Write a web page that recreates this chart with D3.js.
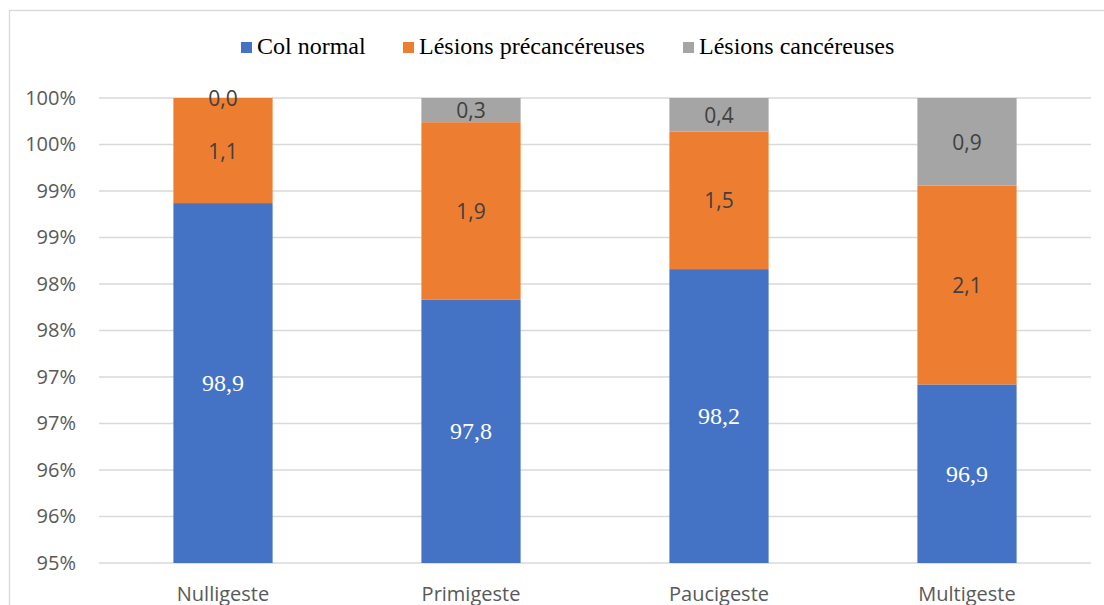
<!DOCTYPE html>
<html>
<head>
<meta charset="utf-8">
<script src="https://cdn.jsdelivr.net/npm/d3@7/dist/d3.min.js"></script>
<style>
  html, body { margin: 0; padding: 0; background: #fff; }
  svg { display: block; }
  .serif { font-family: "Liberation Serif", "Times New Roman", serif; }
  .sans { font-family: "Open Sans", sans-serif; }
</style>
</head>
<body>
<svg id="chart" width="1104" height="605"></svg>
<script>
// Répartition des lésions du col selon la gestité (%)
const categories = ["Nulligeste", "Primigeste", "Paucigeste", "Multigeste"];
const seriesNames = ["Col normal", "Lésions précancéreuses", "Lésions cancéreuses"];
const colNormal = [98.87, 97.83, 98.16, 96.92];
const precancereuses = [1.13, 1.91, 1.48, 2.14];
const cancereuses = [0.00, 0.26, 0.36, 0.94];
const tickValues = [95, 95.5, 96, 96.5, 97, 97.5, 98, 98.5, 99, 99.5, 100];
const tickLabels = ["95%", "96%", "96%", "97%", "97%", "98%", "98%", "99%", "99%", "100%", "100%"];

const colors = ["#4472C4", "#ED7D31", "#A5A5A5"];
const labelColors = ["#FFFFFF", "#404040", "#404040"];
const labelClass = ["serif", "sans", "sans"];
const labelSize = ["24px", "21px", "21px"];

const svg = d3.select("#chart");
const W = 1104, H = 605;

// chart area border
svg.append("rect")
  .attr("x", 9.5).attr("y", 10.5)
  .attr("width", W + 10).attr("height", H + 10)
  .attr("fill", "#fff").attr("stroke", "#D9D9D9").attr("stroke-width", 1.3);

const plot = { left: 99, right: 1091, top: 98, bottom: 563 };

const x = d3.scaleBand()
  .domain(categories)
  .range([plot.left, plot.right])
  .paddingInner(0.6)
  .paddingOuter(0.3);

const y = d3.scaleLinear()
  .domain([95, 100])
  .range([plot.bottom, plot.top]);

// gridlines
svg.append("g")
  .selectAll("line")
  .data(tickValues)
  .join("line")
  .attr("x1", plot.left).attr("x2", plot.right)
  .attr("y1", d => y(d)).attr("y2", d => y(d))
  .attr("stroke", "#D9D9D9").attr("stroke-width", 1.3);

// y axis labels
const yAxis = d3.axisLeft(y)
  .tickValues(tickValues)
  .tickFormat((d, i) => tickLabels[i])
  .tickSize(0)
  .tickPadding(0);
const gy = svg.append("g").attr("transform", "translate(76,0)").call(yAxis);
gy.select(".domain").remove();
gy.selectAll("text")
  .attr("class", "sans")
  .attr("fill", "#595959")
  .attr("font-family", null)
  .style("font-size", "20px");
gy.attr("font-family", null);

// x axis labels
const xAxis = d3.axisBottom(x).tickSize(0).tickPadding(0);
const gx = svg.append("g").attr("transform", "translate(0,587)").call(xAxis);
gx.select(".domain").remove();
gx.attr("font-family", null);
gx.selectAll("text")
  .attr("class", "sans")
  .attr("fill", "#595959")
  .attr("dy", "0.71em")
  .style("font-size", "20px");

// stacked bars
const rows = categories.map((c, i) => ({
  cat: c,
  "Col normal": colNormal[i],
  "Lésions précancéreuses": precancereuses[i],
  "Lésions cancéreuses": cancereuses[i]
}));
const stacked = d3.stack().keys(seriesNames)(rows);

// the value axis starts at 95 %, so segments are clipped to the visible range
const clip = v => Math.max(95, Math.min(100, v));

stacked.forEach((s, si) => {
  svg.append("g")
    .selectAll("rect")
    .data(s)
    .join("rect")
    .attr("x", d => x(d.data.cat))
    .attr("width", x.bandwidth())
    .attr("y", d => y(clip(d[1])))
    .attr("height", d => y(clip(d[0])) - y(clip(d[1])))
    .attr("fill", colors[si]);
});

// data labels
stacked.forEach((s, si) => {
  svg.append("g")
    .selectAll("text")
    .data(s)
    .join("text")
    .attr("class", labelClass[si])
    .attr("x", d => x(d.data.cat) + x.bandwidth() / 2)
    .attr("y", d => (y(clip(d[0])) + y(clip(d[1]))) / 2)
    .attr("text-anchor", "middle")
    .attr("dominant-baseline", "central")
    .attr("fill", labelColors[si])
    .style("font-size", labelSize[si])
    .text(d => d3.format(".1f")(d.data[s.key]).replace(".", ","));
});

// legend
const legendX = [241, 403, 683];
const lg = svg.append("g");
seriesNames.forEach((name, i) => {
  lg.append("rect")
    .attr("x", legendX[i]).attr("y", 42)
    .attr("width", 11).attr("height", 11)
    .attr("fill", colors[i]);
  lg.append("text")
    .attr("class", "serif")
    .attr("x", legendX[i] + 16).attr("y", 54)
    .attr("fill", "#000")
    .style("font-size", "24px")
    .text(name);
});
</script>
</body>
</html>
